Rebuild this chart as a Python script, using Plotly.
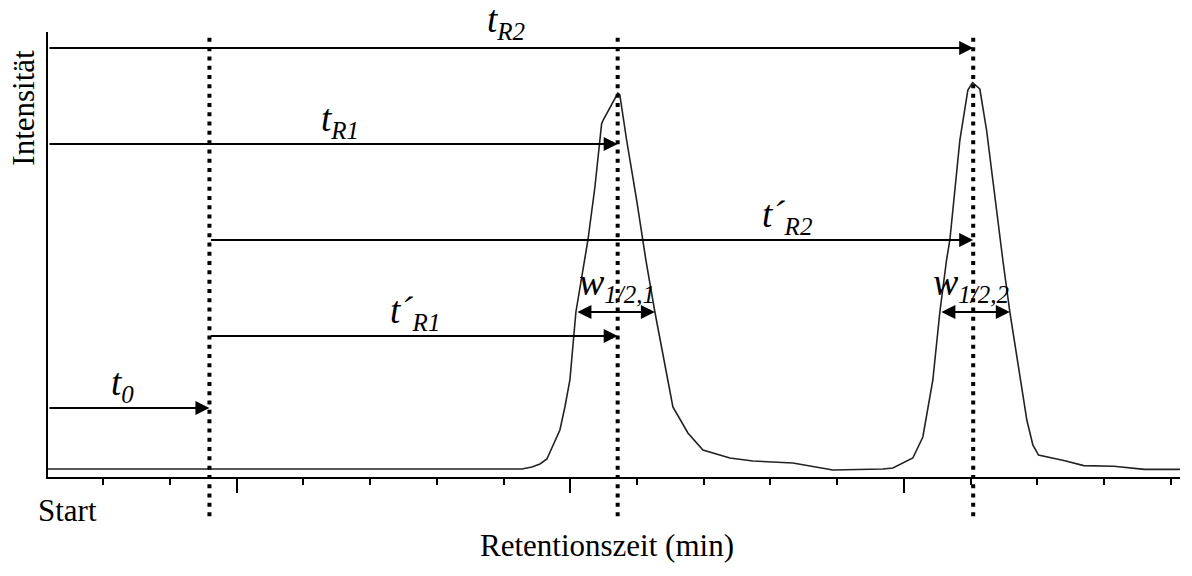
import plotly.graph_objects as go

# ---------------- data ----------------
time_min = [2.17, 9.275, 9.425, 9.545, 9.649, 9.739, 9.844, 9.919, 9.994, 10.084,
            10.219, 10.264, 10.369, 10.469, 10.493, 10.713, 10.743, 10.844, 10.994,
            11.088, 11.133, 11.268, 11.463, 11.538, 11.763, 11.988, 12.392, 12.737,
            13.337, 13.936, 14.686, 14.836, 15.135, 15.285, 15.435, 15.540, 15.640,
            15.690, 15.840, 15.960, 16.030, 16.139, 16.240, 16.334, 16.439, 16.484,
            16.589, 16.749, 16.844, 16.934, 17.019, 17.413, 17.698, 18.148, 18.606, 19.14]
intensity = [1.80, 1.80, 2.25, 2.92, 4.04, 6.97, 10.56, 15.73, 21.80, 37.08,
             48.76, 53.26, 65.17, 79.33, 80.22, 86.29, 85.84, 75.73, 62.25,
             53.26, 48.76, 37.08, 21.80, 15.73, 9.89, 6.07, 4.27, 3.60,
             3.15, 1.57, 1.80, 2.02, 4.27, 8.99, 21.80, 37.08, 48.76,
             53.26, 75.73, 86.97, 88.61, 87.19, 77.98, 66.74, 53.26, 48.76,
             37.08, 21.80, 12.81, 7.19, 4.94, 3.66, 2.56, 2.40, 1.71, 1.71]

t_start = 2.17          # start of the recording (y axis)
t_0 = 4.59              # dead time
t_R1 = 10.71            # retention time peak 1
t_R2 = 16.04            # retention time peak 2
w_half_1 = [10.084, 11.268]   # half-width peak 1
w_half_2 = [15.540, 16.589]   # half-width peak 2

SUB = '<sub><span style="font-size:25px"><i>{}</i></span></sub>'
labels = {
    "tR2": "<i>t</i>" + SUB.format("R2"),
    "tR1": "<i>t</i>" + SUB.format("R1"),
    "tpR2": "<i>t´</i>" + SUB.format("R2"),
    "tpR1": "<i>t´</i>" + SUB.format("R1"),
    "t0": "<i>t</i>" + SUB.format("0"),
    "w1": "<i>w</i>" + SUB.format("1/2,1"),
    "w2": "<i>w</i>" + SUB.format("1/2,2"),
}

# ---------------- layout helpers ----------------
FONT = "Liberation Serif, Times New Roman, Times, DejaVu Serif, serif"
X_RANGE = [2.17, 19.14]
Y_RANGE = [0, 100]

fig = go.Figure()
fig.add_trace(go.Scatter(x=time_min, y=intensity, mode="lines",
                         line=dict(color="#222222", width=1.6),
                         hoverinfo="skip", showlegend=False))

# dotted vertical markers
for xv in [t_0, t_R1, t_R2]:
    fig.add_shape(type="line", xref="x", yref="paper", x0=xv, x1=xv,
                  y0=-0.088, y1=0.998,
                  line=dict(color="black", width=4, dash="4px,5.3px"))


def arrow(x_from, x_to, y, both=False):
    fig.add_annotation(x=x_to, y=y, ax=x_from, ay=y, xref="x", yref="y",
                       axref="x", ayref="y", text="", showarrow=True,
                       arrowhead=2, arrowsize=1.4, arrowwidth=2, arrowcolor="black",
                       startarrowhead=2, startarrowsize=1.4,
                       arrowside="end+start" if both else "end")


def label(x, y, txt, size=37, yshift=-2):
    fig.add_annotation(x=x, y=y, xref="x", yref="y", text=txt, showarrow=False,
                       xanchor="center", yanchor="bottom", yshift=yshift,
                       font=dict(family=FONT, size=size, color="black"))


arrow(t_start, t_R2, 96.40)
arrow(t_start, t_R1, 74.83)
arrow(t_0, t_R2, 53.26)
arrow(t_0, t_R1, 31.69)
arrow(t_start, t_0, 15.51)
arrow(w_half_1[0], w_half_1[1], 37.08, both=True)
arrow(w_half_2[0], w_half_2[1], 37.08, both=True)

label(9.035, 96.40, labels["tR2"], yshift=1)
label(6.547, 74.83, labels["tR1"])
label(13.246, 53.26, labels["tpR2"])
label(7.671, 31.69, labels["tpR1"])
label(3.281, 15.51, labels["t0"])
label(10.698, 37.08, labels["w1"], size=38, yshift=2)
label(16.004, 37.08, labels["w2"], size=38, yshift=2)

# axis texts
fig.add_annotation(x=-0.0212, y=0.83, xref="paper", yref="paper", text="Intensität",
                   textangle=-90, showarrow=False, xanchor="center", yanchor="middle",
                   font=dict(family=FONT, size=31, color="black"))
fig.add_annotation(x=0.494, y=-0.153, xref="paper", yref="paper", text="Retentionszeit (min)",
                   showarrow=False, xanchor="center", yanchor="middle",
                   font=dict(family=FONT, size=31, color="black"))
fig.add_annotation(x=0.0173, y=-0.0764, xref="paper", yref="paper", text="Start",
                   showarrow=False, xanchor="center", yanchor="middle",
                   font=dict(family=FONT, size=31, color="black"))

fig.update_layout(
    width=1192, height=576,
    margin=dict(l=48, r=12, t=32, b=99),
    paper_bgcolor="white", plot_bgcolor="white",
    showlegend=False,
    font=dict(family=FONT),
    xaxis=dict(range=X_RANGE, showgrid=False, zeroline=False, showline=True,
               linecolor="black", linewidth=2, ticks="outside", tickmode="linear",
               tick0=0, dtick=5, ticklen=14, tickwidth=1.5, tickcolor="black",
               showticklabels=False,
               minor=dict(dtick=1, tick0=0, ticks="outside", ticklen=6,
                          tickwidth=1.5, tickcolor="black", showgrid=False)),
    yaxis=dict(range=Y_RANGE, showgrid=False, zeroline=False, showline=True,
               linecolor="black", linewidth=2, ticks="", showticklabels=False),
)

fig.write_html("out.html")
